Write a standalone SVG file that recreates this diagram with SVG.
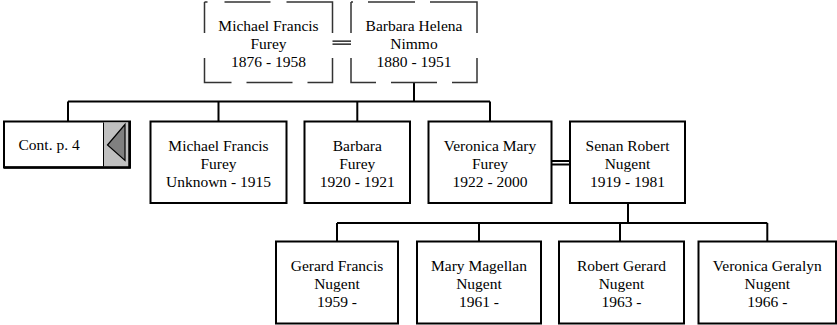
<svg xmlns="http://www.w3.org/2000/svg" width="837" height="325" viewBox="0 0 837 325">
<style>
  .box{fill:#fff;stroke:#000;stroke-width:2}
  .dash{fill:none;stroke:#333;stroke-width:1.5}
  .t{font-family:'Liberation Serif','Times New Roman',Times,'DejaVu Serif',serif;font-size:15.5px;fill:#000;text-anchor:middle}
  .c{fill:none;stroke:#000;stroke-width:2}
  .dbl{fill:none;stroke:#000;stroke-width:1.3}
</style>
<rect width="837" height="325" fill="#fff"/>
<g id="connectors">
  <path class="dbl" d="M332.5,41.2 H351 M332.5,44.2 H351"/>
  <path class="c" d="M414,82.5 V101.5 M68,101.5 H490 M68,101.5 V121.5 M218.5,101.5 V121.5 M357.3,101.5 V121.5 M490,101.5 V121.5"/>
  <path class="dbl" d="M551.5,161 H570 M551.5,164.5 H570" style="stroke-width:1.8"/>
  <path class="c" d="M628,203 V223 M337,223 H767.3 M337,223 V241.5 M479,223 V241.5 M620,223 V241.5 M767.3,223 V241.5"/>
</g>
<g id="p1">
  <path class="dash" d="M204.5,2 h3 M224.5,2 h46 M286.5,2 H332.5 V33 M332.5,58 V82.5 H307.5 M292.5,82.5 H246.5 M231.5,82.5 H204.5 V58 M204.5,33 V2"/>
  <text class="t" x="268.5" y="30.5" font-family="Liberation Serif, serif">Michael Francis</text>
  <text class="t" x="268.5" y="48.5" font-family="Liberation Serif, serif">Furey</text>
  <text class="t" x="268.5" y="66.5" font-family="Liberation Serif, serif">1876 - 1958</text>
</g>
<g id="p2">
  <path class="dash" d="M351,2 h2 M368,2 h47 M430,2 H477 V33 M477,58 V82.5 H452 M437,82.5 H391 M376,82.5 H351 V58 M351,33 V2"/>
  <text class="t" x="414" y="30.5">Barbara Helena</text>
  <text class="t" x="414" y="48.5">Nimmo</text>
  <text class="t" x="414" y="66.5">1880 - 1951</text>
</g>
<g id="cont">
  <rect class="box" x="4" y="121.5" width="126" height="46"/>
  <rect x="103.5" y="122.5" width="25.5" height="44" fill="#c0c0c0"/>
  <path d="M103.5,122.5 V166.5" stroke="#000" stroke-width="1"/>
  <path d="M129.5,121.5 V168.5 M4,167.5 H130.5" stroke="#000" stroke-width="2.5" fill="none"/>
  <polygon points="107.5,145 125,124.5 125,160.5" fill="#808080" stroke="#000" stroke-width="1.2"/>
  <text class="t" x="18.5" y="149.5" style="text-anchor:start">Cont. p. 4</text>
</g>
<g id="c1">
  <rect class="box" x="150.5" y="121.5" width="136" height="81.5"/>
  <text class="t" x="218.5" y="150.5">Michael Francis</text>
  <text class="t" x="218.5" y="168.5">Furey</text>
  <text class="t" x="218.5" y="186.5">Unknown - 1915</text>
</g>
<g id="c2">
  <rect class="box" x="304.5" y="121.5" width="105.5" height="81.5"/>
  <text class="t" x="357.3" y="150.5">Barbara</text>
  <text class="t" x="357.3" y="168.5">Furey</text>
  <text class="t" x="357.3" y="186.5">1920 - 1921</text>
</g>
<g id="c3">
  <rect class="box" x="428.5" y="121.5" width="123" height="81.5"/>
  <text class="t" x="490" y="150.5">Veronica Mary</text>
  <text class="t" x="490" y="168.5">Furey</text>
  <text class="t" x="490" y="186.5">1922 - 2000</text>
</g>
<g id="s3">
  <rect class="box" x="570" y="121.5" width="115" height="81.5"/>
  <text class="t" x="627.5" y="150.5">Senan Robert</text>
  <text class="t" x="627.5" y="168.5">Nugent</text>
  <text class="t" x="627.5" y="186.5">1919 - 1981</text>
</g>
<g id="g1">
  <rect class="box" x="276" y="241.5" width="122" height="82"/>
  <text class="t" x="337" y="270.5">Gerard Francis</text>
  <text class="t" x="337" y="288.5">Nugent</text>
  <text class="t" x="337" y="306.5">1959 -</text>
</g>
<g id="g2">
  <rect class="box" x="417" y="241.5" width="124" height="82"/>
  <text class="t" x="479" y="270.5">Mary Magellan</text>
  <text class="t" x="479" y="288.5">Nugent</text>
  <text class="t" x="479" y="306.5">1961 -</text>
</g>
<g id="g3">
  <rect class="box" x="559" y="241.5" width="125" height="82"/>
  <text class="t" x="621.5" y="270.5">Robert Gerard</text>
  <text class="t" x="621.5" y="288.5">Nugent</text>
  <text class="t" x="621.5" y="306.5">1963 -</text>
</g>
<g id="g4">
  <rect class="box" x="698.5" y="241.5" width="137.5" height="82"/>
  <text class="t" x="767.3" y="270.5">Veronica Geralyn</text>
  <text class="t" x="767.3" y="288.5">Nugent</text>
  <text class="t" x="767.3" y="306.5">1966 -</text>
</g>
</svg>
